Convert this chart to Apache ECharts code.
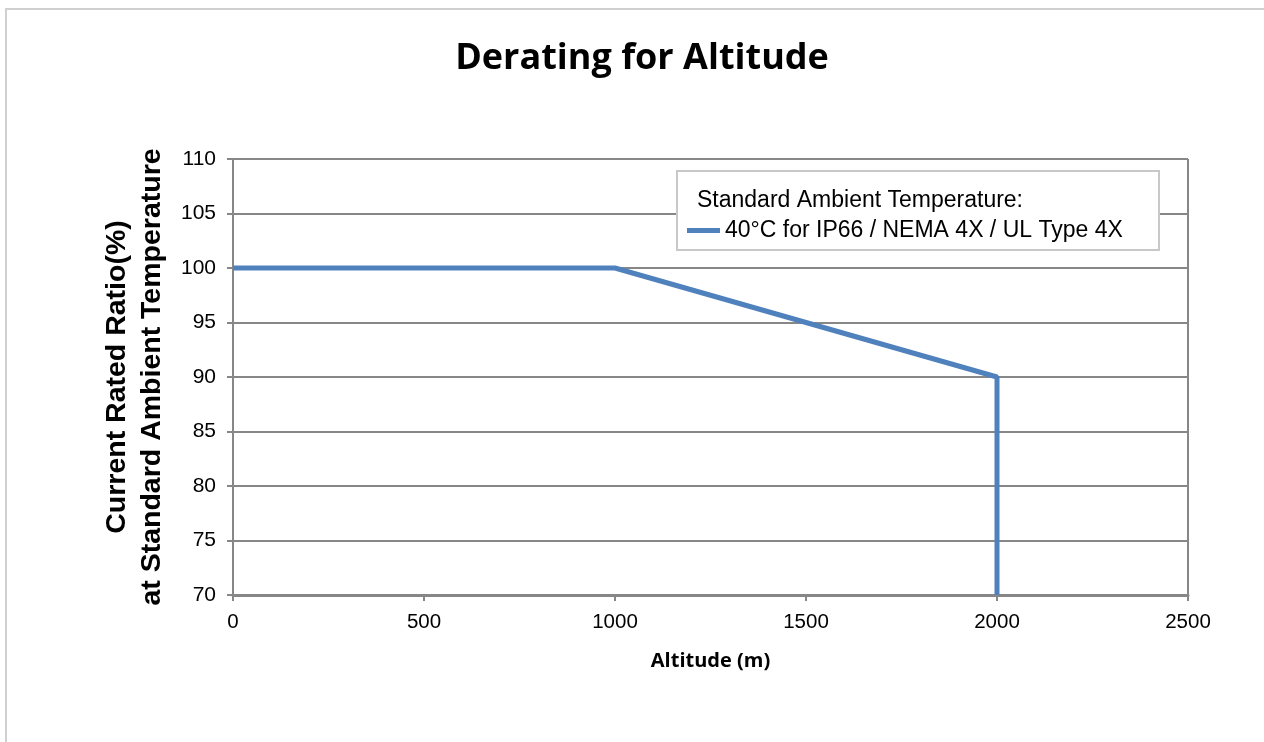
<!DOCTYPE html>
<html>
<head>
<meta charset="utf-8">
<script src="https://cdn.jsdelivr.net/npm/echarts@6/dist/echarts.min.js"></script>
<style>html,body{margin:0;padding:0;background:#fff;}#c{width:1264px;height:742px;}</style>
</head>
<body>
<div id="c"></div>
<script>
const altitude = [0, 1000, 1500, 2000, 2000];
const ratio = [100, 100, 95, 90, 70];
const seriesName = '40°C for IP66 / NEMA 4X / UL Type 4X';
const legendHeader = 'Standard Ambient Temperature:';
const titleText = 'Derating for Altitude';
const xName = 'Altitude (m)';
const yName = 'Current Rated Ratio(%)\nat Standard Ambient Temperature';

const chart = echarts.init(document.getElementById('c'));
const grey = '#878787';
chart.setOption({
  animation: false,
  backgroundColor: '#fff',
  title: {
    text: titleText, left: 637, top: 36, textAlign: 'center',
    textStyle: { fontFamily: 'Open Sans', fontWeight: 'bold', fontSize: 36, color: '#000' }
  },
  graphic: [
    { type: 'rect', shape: { x: 6, y: 9, width: 1300, height: 800 }, style: { fill: 'none', stroke: '#d0d0d0', lineWidth: 2 }, z: -10 },
    { type: 'rect', shape: { x: 677, y: 171, width: 482, height: 79 }, style: { fill: '#fff', stroke: '#c8c8c8', lineWidth: 2 }, z: 5 },
    { type: 'text', x: 697, y: 201, style: { text: legendHeader, fontFamily: 'Liberation Sans', fontSize: 23, fill: '#000', verticalAlign: 'middle', textVerticalAlign: 'middle' }, z: 6 },
    { type: 'line', shape: { x1: 1188, y1: 159, x2: 1188, y2: 595 }, style: { stroke: grey, lineWidth: 2 }, z: 2 }
  ],
  legend: {
    left: 682, top: 214, itemWidth: 33, itemHeight: 5, itemGap: 8, z: 7,
    icon: 'rect',
    textStyle: { fontFamily: 'Liberation Sans', fontSize: 23, color: '#000' },
    data: [{ name: seriesName }]
  },
  grid: { left: 233, right: 76, top: 159, bottom: 147 },
  xAxis: {
    type: 'value', min: 0, max: 2500, interval: 500,
    name: xName, nameLocation: 'middle', nameGap: 56,
    nameTextStyle: { fontFamily: 'Open Sans', fontWeight: 'bold', fontSize: 20, color: '#000' },
    axisLine: { show: true, lineStyle: { color: grey, width: 3 } },
    axisTick: { show: true, length: 6, lineStyle: { color: grey, width: 2 } },
    axisLabel: { fontFamily: 'Liberation Sans', fontSize: 20.5, color: '#000', margin: 17, formatter: v => String(v) },
    splitLine: { show: false }
  },
  yAxis: {
    type: 'value', min: 70, max: 110, interval: 5,
    name: yName, nameLocation: 'middle', nameGap: 63,
    nameTextStyle: { fontFamily: 'Liberation Sans', fontWeight: 'bold', fontSize: 28.5, color: '#000', lineHeight: 35 },
    axisLine: { show: true, lineStyle: { color: grey, width: 2 } },
    axisTick: { show: true, length: 6, lineStyle: { color: grey, width: 2 } },
    axisLabel: { fontFamily: 'Liberation Sans', fontSize: 21, color: '#000', margin: 17 },
    splitLine: { show: true, lineStyle: { color: grey, width: 2 } }
  },
  series: [{
    name: seriesName, type: 'line',
    data: altitude.map((a, i) => [a, ratio[i]]),
    showSymbol: false, symbol: 'none',
    lineStyle: { color: '#4F81BD', width: 5 },
    itemStyle: { color: '#4F81BD' },
    z: 3
  }]
});
</script>
</body>
</html>
